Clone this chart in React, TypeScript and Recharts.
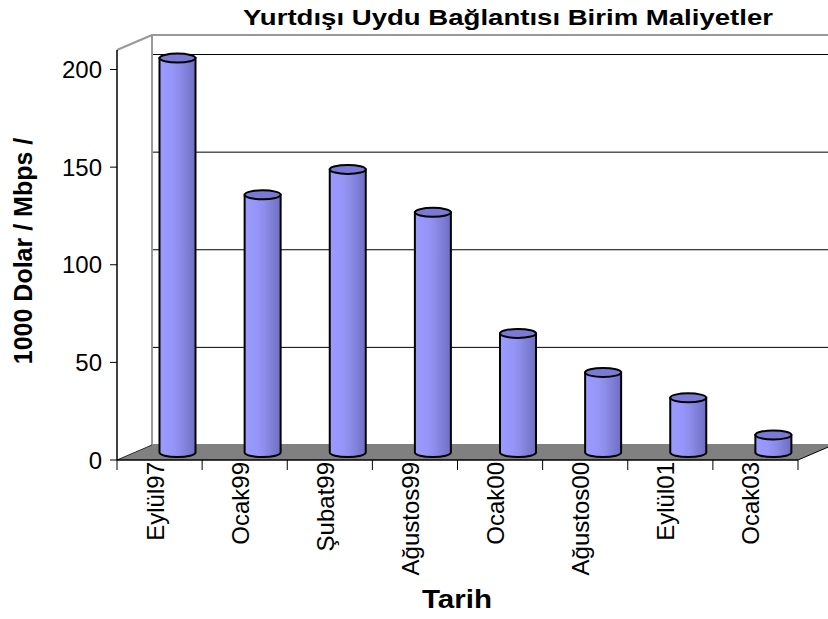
import React from 'react';
import { BarChart, Bar, XAxis, YAxis, CartesianGrid } from 'recharts';

const categories = ['Eylül97', 'Ocak99', 'Şubat99', 'Ağustos99', 'Ocak00', 'Ağustos00', 'Eylül01', 'Ocak03'];
const costs = [202, 132, 145, 123, 61, 41, 28, 9];
const yTicks = [0, 50, 100, 150, 200];

const data = categories.map((tarih, i) => ({ tarih, maliyet: costs[i] }));

// chart box + the fake 3d depth (back wall is shifted by DX, DY)
const W = 828;
const H = 619;
const LEFT = 117;
const TOP = 50;
const RIGHT = 30;
const BOTTOM = 159;
const DX = 35;
const DY = -15;
const FONT = '"Liberation Sans", Arial, sans-serif';

const plotBottom = H - BOTTOM;
const plotRight = W - RIGHT;

// walls + floor drawn behind everything
const Walls = () => (
  <g>
    <defs>
      <linearGradient id="cylBody" x1="0" y1="0" x2="1" y2="0">
        <stop offset="0%" stopColor="#9a9aff" />
        <stop offset="35%" stopColor="#9696fa" />
        <stop offset="60%" stopColor="#8a8ae6" />
        <stop offset="100%" stopColor="#6e6ec4" />
      </linearGradient>
    </defs>
    <polygon
      points={`${LEFT},${TOP} ${LEFT + DX},${TOP + DY} ${LEFT + DX},${plotBottom + DY} ${LEFT},${plotBottom}`}
      fill="#fff"
    />
    <line x1={LEFT} y1={TOP} x2={LEFT + DX} y2={TOP + DY} stroke="#999" strokeWidth={2} />
    <line x1={LEFT + DX} y1={TOP + DY} x2={W} y2={TOP + DY} stroke="#999" strokeWidth={2} />
    <line x1={LEFT + DX} y1={TOP + DY} x2={LEFT + DX} y2={plotBottom + DY} stroke="#999" strokeWidth={2} />
  </g>
);

const Floor = () => (
  <g>
    <polygon
      points={`${LEFT},${plotBottom} ${plotRight},${plotBottom} ${plotRight + DX},${plotBottom + DY} ${LEFT + DX},${plotBottom + DY}`}
      fill="#808080"
    />
    <line x1={LEFT} y1={plotBottom} x2={LEFT + DX} y2={plotBottom + DY} stroke="#333" strokeWidth={1} />
    <line x1={plotRight} y1={plotBottom} x2={plotRight + DX} y2={plotBottom + DY} stroke="#000" strokeWidth={1} />
  </g>
);

const GridLine = (props: any) => {
  const { x1, x2, y1 } = props;
  return (
    <polyline
      points={`${x1},${y1} ${x1 + DX},${y1 + DY} ${x2 + DX},${y1 + DY}`}
      fill="none"
      stroke="#000"
      strokeWidth={1}
    />
  );
};

const Cylinder = (props: any) => {
  const { x, y, width, height } = props;
  const rx = width / 2;
  const ry = 4.5;
  const cx = x + rx + DX / 2;
  const top = y + DY / 2;
  const bottom = y + height + DY / 2;
  const l = cx - rx;
  const r = cx + rx;
  return (
    <g>
      <path
        d={`M${l},${top} L${l},${bottom} A${rx},${ry} 0 0 0 ${r},${bottom} L${r},${top} Z`}
        fill="url(#cylBody)"
        stroke="#000"
        strokeWidth={2}
      />
      <ellipse cx={cx} cy={top} rx={rx} ry={ry} fill="#7a7ad6" stroke="#000" strokeWidth={2} />
    </g>
  );
};

const CategoryTick = (props: any) => {
  const { x, y, payload, index } = props;
  const half = payload.offset ?? (W - LEFT - RIGHT) / categories.length / 2;
  const bx = x + 4;
  return (
    <g>
      {index === 0 && <line x1={x - half} y1={plotBottom} x2={x - half} y2={plotBottom + 10} stroke="#000" />}
      <line x1={x + half} y1={plotBottom} x2={x + half} y2={plotBottom + 10} stroke="#000" />
      <text
        x={bx}
        y={y}
        transform={`rotate(-90, ${bx}, ${y})`}
        textAnchor="end"
        fontSize={24}
        fontFamily={FONT}
        fill="#000"
      >
        {payload.value}
      </text>
    </g>
  );
};

export default function App() {
  return (
    <div style={{ position: 'absolute', left: 0, top: 0, width: W, height: H, background: '#fff' }}>
      <BarChart width={W} height={H} data={data} margin={{ top: TOP, right: RIGHT, bottom: 0, left: 0 }}>
        <Walls />
        <CartesianGrid vertical={false} horizontal={GridLine} />
        <Floor />
        <XAxis
          dataKey="tarih"
          height={BOTTOM}
          axisLine={{ stroke: '#000', strokeWidth: 1.5 }}
          tickLine={false}
          tickSize={0}
          tickMargin={2}
          interval={0}
          tick={<CategoryTick />}
        />
        <YAxis
          width={LEFT}
          domain={[0, 210]}
          ticks={yTicks}
          axisLine={{ stroke: '#000', strokeWidth: 1.5 }}
          tickLine={{ stroke: '#000' }}
          tickSize={7}
          tickMargin={8}
          tick={{ fontSize: 24, fontFamily: FONT, fill: '#000' }}
        />
        <Bar dataKey="maliyet" barSize={36} shape={<Cylinder />} isAnimationActive={false} />
        <text
          x={508}
          y={25}
          textAnchor="middle"
          fontSize={22}
          fontWeight="bold"
          fontFamily={FONT}
          fill="#000"
          textLength={530}
          lengthAdjust="spacingAndGlyphs"
        >
          Yurtdışı Uydu Bağlantısı Birim Maliyetler
        </text>
        <text
          x={32}
          y={251}
          transform="rotate(-90, 32, 251)"
          textAnchor="middle"
          fontSize={25}
          fontWeight="bold"
          fontFamily={FONT}
          fill="#000"
        >
          1000 Dolar / Mbps /
        </text>
        <text
          x={457}
          y={608}
          textAnchor="middle"
          fontSize={25}
          fontWeight="bold"
          fontFamily={FONT}
          fill="#000"
          textLength={70}
          lengthAdjust="spacingAndGlyphs"
        >
          Tarih
        </text>
      </BarChart>
    </div>
  );
}
